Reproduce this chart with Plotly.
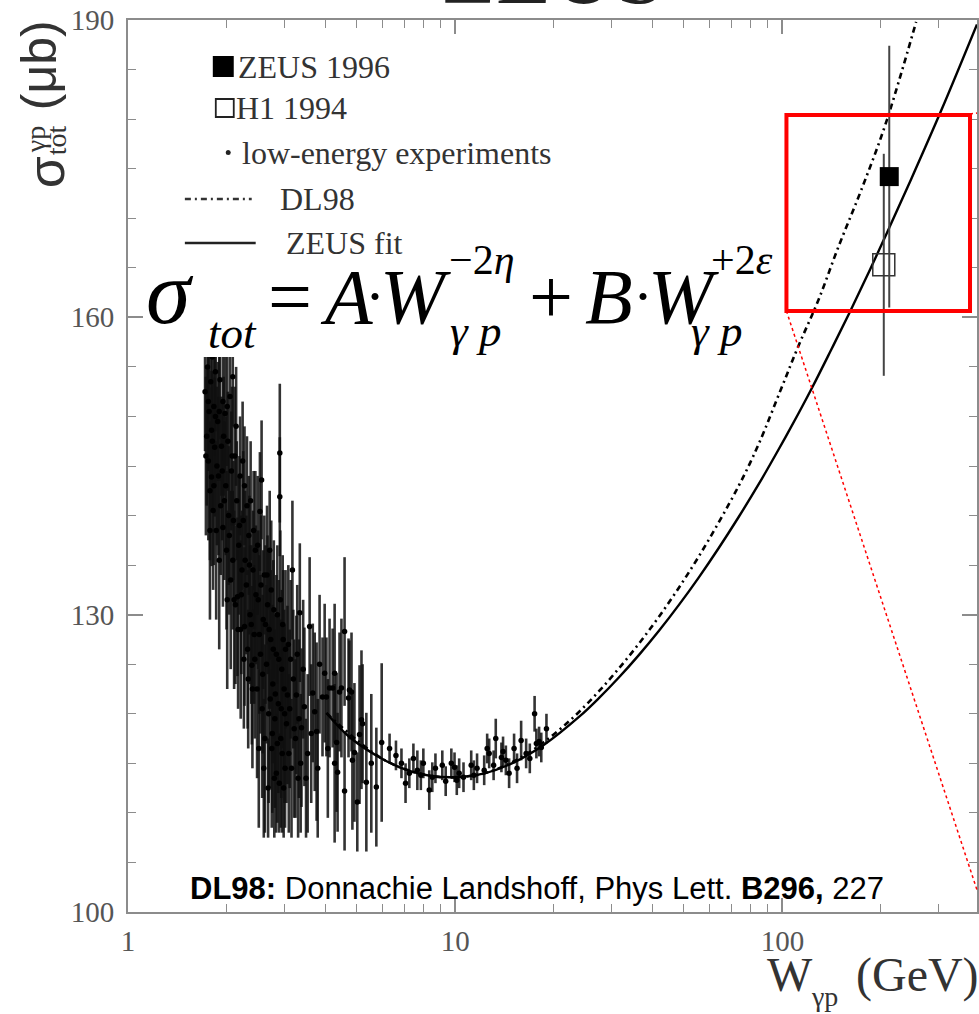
import plotly.graph_objects as go

# ---------------- data ----------------
low_W = [1.72, 1.74, 1.75, 1.76, 1.77, 1.78, 1.79, 1.80, 1.80, 1.81, 1.82, 1.83,
         1.84, 1.85, 1.86, 1.88, 1.89, 1.91, 1.92, 1.93, 1.95, 1.95,
         1.98, 1.99, 2.00, 2.02, 2.03, 2.05, 2.06, 2.07, 2.09, 2.09, 2.10,
         2.12, 2.13, 2.15, 2.16, 2.18, 2.20, 2.21, 2.23, 2.25, 2.27, 2.27,
         2.30, 2.32, 2.34, 2.36, 2.37, 2.39, 2.41, 2.43, 2.45,
         2.48, 2.50, 2.53, 2.54, 2.56, 2.57, 2.59, 2.61, 2.62,
         2.65, 2.67, 2.69, 2.71, 2.73, 2.75, 2.77, 2.79, 2.81, 2.84, 2.84,
         2.88, 2.91, 2.91, 2.93, 2.95, 2.97, 2.99, 3.01, 3.03,
         3.07, 3.10, 3.14, 3.18, 3.22, 3.27, 3.31, 3.35,
         3.39, 3.46, 3.54, 3.59, 3.67, 3.72, 3.77, 3.85, 3.93, 3.99, 4.04, 4.13,
         4.22, 4.28, 4.28, 4.34, 4.37, 4.43, 4.49, 4.59, 4.59, 4.72, 4.75, 4.82,
         4.85, 4.92, 5.02, 5.10, 5.17, 5.21, 5.35, 5.54, 5.74, 5.96,
         1.73, 1.76, 1.78, 1.81, 1.83,
         1.85, 1.87, 1.90, 1.90, 1.94, 1.96,
         1.97, 2.01, 2.01, 2.04, 2.08, 2.11,
         2.14, 2.17, 2.19, 2.22, 2.24, 2.26, 2.28,
         2.31, 2.33, 2.35, 2.38, 2.40, 2.42, 2.44, 2.46,
         2.49, 2.51, 2.52, 2.55, 2.58, 2.60, 2.63,
         2.66, 2.68, 2.70, 2.72, 2.74, 2.76, 2.78, 2.80, 2.82, 2.86, 2.86,
         2.89, 2.90, 2.92, 2.94, 2.96, 2.98, 3.00, 3.02, 3.05,
         3.09, 3.12, 3.16, 3.20, 3.25, 3.29, 3.33, 3.37,
         3.43, 3.50, 3.63, 3.80, 4.08,
         6.30, 6.59, 6.85, 7.05, 7.24, 7.45, 7.66, 7.85, 7.99, 8.33, 8.51, 8.70,
         9.13, 9.35, 9.73, 9.95, 10.11, 10.28, 10.6, 11.19, 11.4, 11.66,
         12.26, 12.52, 12.70, 13.1, 13.3, 13.84, 14.0, 14.28, 14.61, 15.13, 15.45,
         15.9, 16.47, 16.9, 17.48, 17.7, 18.04, 18.32, 19.00]
low_sigma = [152.5, 148.0, 155.0, 145.5, 150.5, 142.5, 153.5, 148.6, 143.9, 156.0, 140.5, 151.0,
             146.9, 154.5, 138.5, 149.5, 144.0, 153.7, 141.0, 147.0, 138.8, 151.5,
             150.3, 143.0, 136.5, 147.5, 140.0, 152.0, 133.5, 144.5, 154.0, 135.5, 139.5,
             146.0, 131.0, 141.5, 131.8, 137.0, 144.0, 128.5, 134.5, 139.5, 128.8, 143.0,
             133.0, 126.5, 138.0, 130.0, 141.5, 124.9, 134.5, 128.0, 136.5,
             122.5, 131.5, 140.4, 126.0, 143.6, 120.5, 129.5, 134.0, 117.5,
             125.0, 131.0, 120.0, 136.5, 127.5, 116.5, 123.0, 130.5, 119.5, 114.0, 126.0,
             121.0, 146.3, 141.9, 117.5, 124.5, 129.0, 112.5, 120.0, 126.5,
             121.9, 116.0, 125.5, 134.5, 118.5, 121.9, 113.5, 130.2,
             118.6, 120.7, 116.0, 128.8, 122.1, 120.2, 118.2, 125.0, 121.7, 124.1, 121.7, 122.6,
             122.6, 124.1, 115.0, 117.1, 114.1, 122.2, 122.6, 128.3, 112.2, 121.6, 122.4, 122.2,
             115.3, 116.1, 111.1, 117.9, 119.4, 119.0, 113.1, 115.0, 112.6, 117.1,
             146.0, 151.5, 138.5, 147.5, 143.0,
             150.0, 145.0, 135.5, 150.5, 144.5, 148.0,
             141.5, 131.5, 151.0, 138.0, 146.0, 131.5,
             149.0, 128.5, 139.0, 132.0, 145.5, 125.5, 135.5,
             141.0, 123.5, 135.0, 129.0, 122.5, 138.5, 125.5, 132.0,
             137.0, 116.5, 128.0, 133.0, 124.0, 114.5, 129.0,
             134.0, 112.5, 128.5, 121.5, 132.5, 118.0, 126.5, 113.5, 122.0, 130.0, 117.0,
             125.5, 113.0, 131.5, 120.5, 116.0, 127.5, 122.5, 114.5, 119.0,
             127.0, 120.5, 114.5, 123.5, 117.5, 126.0, 119.5, 115.0,
             124.5, 113.5, 118.0, 114.5, 116.5,
             116.5, 115.8, 115.0, 113.0, 114.0, 115.5, 114.3, 113.8, 115.0, 112.3, 113.6, 114.5,
             114.8, 113.2, 115.0, 114.6, 113.3, 114.0, 113.6, 114.8, 113.8, 114.5,
             114.3, 116.5, 116.0, 114.8, 117.5, 115.6, 116.2, 115.3, 114.0, 116.5, 114.5,
             117.3, 116.0, 115.5, 120.0, 117.0, 117.2, 116.6, 118.5]
low_err = [6, 7, 7, 8, 6, 7, 5, 6, 9, 6, 8, 5,
           7, 6, 9, 6, 8, 6, 7, 5, 8, 6,
           6, 7, 8, 5, 7, 6, 9, 6, 5, 7, 6,
           7, 8, 6, 8, 7, 6, 9, 6, 7, 8, 6,
           7, 8, 6, 7, 6, 8, 6, 7, 8,
           9, 7, 6, 8, 6, 9, 7, 6, 9.5,
           8, 7, 9, 6, 7, 8, 8, 7, 9, 6, 8,
           9, 7, 6, 9, 8, 7, 5, 9, 8,
           9, 8, 8, 7, 9, 8, 6, 7,
           8, 8, 8, 7, 7, 8, 9, 7, 6, 7, 6, 7,
           6, 7, 8, 7, 6, 6, 7, 7.5, 6, 6, 5, 6,
           7, 7, 5, 7, 7, 6, 7, 7, 6, 8,
           8, 7, 9, 7, 8,
           7, 8, 9, 7, 7, 6,
           8, 9, 6, 8, 7, 9,
           6, 8, 7, 8, 6, 7, 7,
           7, 7, 7, 8, 8, 6, 8, 7,
           7, 8, 8, 7, 8, 7, 8,
           7, 5, 8, 9, 7, 8, 9, 6, 8, 7, 8,
           8, 5, 7, 9, 8, 7, 8, 6, 8,
           8, 8, 7, 7, 8, 7, 8, 7,
           7, 6, 7, 7, 7,
           1.5, 1.5, 1.5, 2, 1.5, 1.5, 2, 1.5, 1.5, 2, 1.5, 1.5,
           1.5, 1.5, 1.5, 1.5, 1.5, 1.5, 1.5, 1.5, 1.5, 1.5,
           1.5, 1.5, 1.5, 1.5, 2, 1.5, 1.5, 1.5, 1.5, 1.5, 1.5,
           2, 1.5, 1.5, 1.8, 1.5, 1.5, 1.5, 1.5]

zeus_W = [212.0]
zeus_sigma = [174.2]
zeus_err = [13.2]

h1_W = [204.0]
h1_sigma = [165.3]
h1_err = [11.2]

fit_W = [4.04, 4.75, 6.07, 7.24, 8.45, 10.28, 12.26, 15.13, 18.68, 23.88, 27.48, 31.62,
         36.39, 41.88, 48.2, 55.46, 63.8, 73.4, 84.5, 97.2, 111.9, 123.5, 140.9, 161.1,
         185.4, 211.9, 247.3, 305.3, 393.0]
fit_sigma = [120.08, 117.66, 115.34, 114.23, 113.72, 113.62, 113.98, 115.10, 116.87, 119.68,
             121.58, 123.66, 125.92, 128.35, 130.96, 133.74, 136.70, 139.83, 143.14, 146.64,
             150.30, 152.97, 156.73, 160.62, 164.86, 169.02, 173.94, 180.84, 189.56]

dl98_W = [4.04, 6.07, 8.45, 10.28, 12.26, 15.13, 18.68, 23.88, 31.62, 41.88, 55.46, 73.4,
          84.5, 99.3, 111.9, 128.8, 148.2, 174.1, 206.1, 256.1]
dl98_sigma = [120.08, 115.34, 113.72, 113.62, 113.98, 115.21, 117.15, 120.18, 124.57, 129.77,
              135.86, 142.96, 147.18, 152.87, 157.11, 161.75, 167.10, 172.85, 179.41, 189.80]

x_ticks = [1, 10, 100]
x_minor = [2, 3, 4, 5, 6, 7, 8, 9, 20, 30, 40, 50, 60, 70, 80, 90, 200, 300]
y_ticks = [100, 130, 160, 190]

# ---------------- layout geometry ----------------
W_PX, H_PX = 979, 1014
L, R, T, B = 128, 0, 20, 102
PW, PH = W_PX - L - R, H_PX - T - B


def px(x):
    return (x - L) / PW


def py(y):
    return (H_PX - B - y) / PH


SERIF = "Liberation Serif"
SANS = "Liberation Sans"
AXC = "#8c8c8c"
DASH = "6px,4px,2px,4px"

fig = go.Figure()

fig.add_trace(go.Scatter(
    x=low_W, y=low_sigma, mode="markers",
    marker=dict(color="black", size=5.5),
    error_y=dict(type="data", array=low_err, color="rgba(15,15,15,0.85)", thickness=2.6, width=0),
    name="low-energy experiments", showlegend=False))

fig.add_trace(go.Scatter(
    x=dl98_W, y=dl98_sigma, mode="lines",
    line=dict(color="black", width=2.6, dash=DASH, shape="spline"),
    name="DL98", showlegend=False))

fig.add_trace(go.Scatter(
    x=fit_W, y=fit_sigma, mode="lines",
    line=dict(color="black", width=2.4, shape="spline"),
    name="ZEUS fit", showlegend=False))

fig.add_trace(go.Scatter(
    x=h1_W, y=h1_sigma, mode="markers",
    marker=dict(symbol="square-open", color="#333", size=22, line=dict(width=1.5, color="#333")),
    error_y=dict(type="data", array=h1_err, color="#444", thickness=2, width=0),
    name="H1 1994", showlegend=False))

fig.add_trace(go.Scatter(
    x=zeus_W, y=zeus_sigma, mode="markers",
    marker=dict(symbol="square", color="black", size=19),
    error_y=dict(type="data", array=zeus_err, color="#444", thickness=2, width=0),
    name="ZEUS 1996", showlegend=False))

shapes = []
annotations = []

# white box behind the formula (it hides the data under it, as in the original)
shapes.append(dict(type="rect", xref="paper", yref="paper", x0=px(146), x1=px(782),
                   y0=py(357), y1=py(258), fillcolor="white", line=dict(width=0), layer="above"))

# hand-drawn legend
shapes.append(dict(type="rect", xref="paper", yref="paper", x0=px(213), x1=px(234),
                   y0=py(77), y1=py(56), fillcolor="black", line=dict(width=0), layer="above"))
shapes.append(dict(type="rect", xref="paper", yref="paper", x0=px(216), x1=px(234),
                   y0=py(117), y1=py(99), fillcolor="rgba(0,0,0,0)",
                   line=dict(width=1.8, color="#222"), layer="above"))
shapes.append(dict(type="circle", xref="paper", yref="paper", x0=px(226), x1=px(231),
                   y0=py(155), y1=py(150), fillcolor="#222", line=dict(width=0), layer="above"))
shapes.append(dict(type="line", xref="paper", yref="paper", x0=px(185), x1=px(252),
                   y0=py(199), y1=py(199), line=dict(width=2.6, color="#333", dash=DASH),
                   layer="above"))
shapes.append(dict(type="line", xref="paper", yref="paper", x0=px(185), x1=px(256),
                   y0=py(243), y1=py(243), line=dict(width=2.4, color="#222"), layer="above"))

# red zoom box and connectors
shapes.append(dict(type="rect", xref="paper", yref="paper", x0=px(788), x1=px(972),
                   y0=py(311), y1=py(115), line=dict(width=4, color="#ff0000"), layer="above"))
shapes.append(dict(type="line", xref="paper", yref="paper", x0=px(788), x1=px(979),
                   y0=py(311), y1=py(890), line=dict(width=1.5, color="#ff0000", dash="dot"),
                   layer="above"))
shapes.append(dict(type="line", xref="paper", yref="paper", x0=px(972), x1=px(979),
                   y0=py(114), y1=py(113), line=dict(width=1.5, color="#ff0000", dash="dot"),
                   layer="above"))


def ann(text, x, y, size, family=SERIF, color="black", xanchor="left", yanchor="middle",
        angle=0):
    annotations.append(dict(text=text, x=px(x), y=py(y), xref="paper", yref="paper",
                            showarrow=False, xanchor=xanchor, yanchor=yanchor, textangle=angle,
                            font=dict(family=family, size=size, color=color)))


LEGC = "#333333"
ann("ZEUS 1996", 236, 67, 32, color=LEGC)
ann("H1 1994", 234, 108, 32, color=LEGC)
ann("low-energy experiments", 240, 153, 32, color=LEGC)
ann("DL98", 278, 199, 32, color=LEGC)
ann("ZEUS fit", 284, 243, 32, color=LEGC)

# formula
FM = 78
FS = 45
FU = 42
FD = 60
ann("<i>σ</i>", 144, 292, 90)
ann("<i>tot</i>", 206, 333, FS)
ann("=", 266, 296, FM)
ann("<i>A</i>", 318, 296, FM)
ann("·", 364, 296, FD)
ann("<i>W</i>", 379, 296, FM)
ann("−2<i>η</i>", 448, 260, FU)
ann("<i>γ p</i>", 449, 331, FS)
ann("+", 528, 296, FM)
ann("<i>B</i>", 584, 296, FM)
ann("·", 632, 296, FD)
ann("<i>W</i>", 647, 296, FM)
ann("+2<i>ε</i>", 710, 260, FU)
ann("<i>γ p</i>", 690, 331, FS)

# reference note
ann("<b>DL98:</b> Donnachie Landshoff, Phys Lett. <b>B296,</b> 227", 188, 888, 31, family=SANS)

# axis titles
ann("W", 766, 974, 48, color="#333")
ann("γp", 811, 997, 28, color="#333")
ann("(GeV)", 856, 975, 48, color="#333")
ann("(μb)", 39, 65, 50, family=SANS, color="#333", xanchor="center", angle=-90)
ann("σ", 46, 172, 52, family=SANS, color="#333", xanchor="center", angle=-90)
ann("γp", 35, 140, 28, color="#333", xanchor="center", angle=-90)
ann("tot", 56, 140, 28, color="#333", xanchor="center", angle=-90)

# ZEUS title, mostly above the top edge of the picture
ann("ZEUS", 555, -27, 90, color="#222", xanchor="center")

fig.update_layout(
    width=W_PX, height=H_PX,
    margin=dict(l=L, r=R, t=T, b=B, pad=0),
    paper_bgcolor="white", plot_bgcolor="white",
    showlegend=False,
    shapes=shapes, annotations=annotations,
    xaxis=dict(type="log", range=[0, 2.5945], showgrid=False, zeroline=False,
               showline=True, linecolor=AXC, linewidth=2, mirror="ticks",
               ticks="inside", ticklen=14, tickwidth=1.5, tickcolor=AXC,
               tickmode="array", tickvals=x_ticks, ticktext=[str(v) for v in x_ticks],
               tickfont=dict(family=SERIF, size=29, color="#555"), ticklabelstandoff=2,
               minor=dict(tickmode="array", tickvals=x_minor, ticks="inside", ticklen=8,
                          tickwidth=1.2, tickcolor=AXC, showgrid=False)),
    yaxis=dict(range=[100, 190], showgrid=False, zeroline=False,
               showline=True, linecolor=AXC, linewidth=2, mirror="ticks",
               ticks="inside", ticklen=15, tickwidth=1.5, tickcolor=AXC,
               tickmode="array", tickvals=y_ticks, ticktext=[str(v) for v in y_ticks],
               tickfont=dict(family=SERIF, size=29, color="#555"), ticklabelstandoff=6,
               minor=dict(dtick=5, ticks="inside", ticklen=8, tickwidth=1.2,
                          tickcolor=AXC, showgrid=False)),
)

fig.write_html("out.html", config={"displayModeBar": False},
               post_script="document.body.style.margin='0px';"
                           "document.body.style.overflow='hidden';")
